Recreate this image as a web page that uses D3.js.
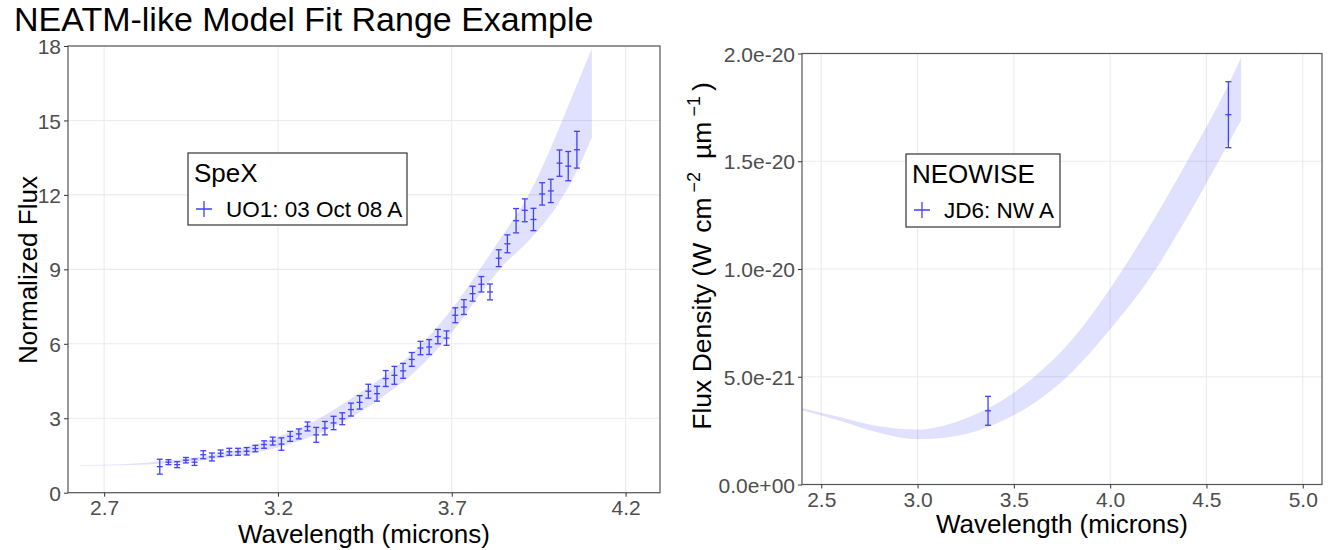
<!DOCTYPE html>
<html lang="en">
<head>
  <meta charset="UTF-8">
  <title>NEATM-like Model Fit Range Example</title>
  <script src="https://d3js.org/d3.v7.min.js"></script>
  <style>
    body { margin: 0; background: #fff; }
    svg { font-family: "Liberation Sans", Arial, sans-serif; }
  </style>
</head>
<body>
<script>
  // SpeX spectrum (normalized flux)
  const spexWave = [2.86, 2.885, 2.91, 2.935, 2.96, 2.985, 3.01, 3.035, 3.06, 3.085,
    3.11, 3.135, 3.16, 3.185, 3.21, 3.235, 3.26, 3.285, 3.31, 3.335,
    3.36, 3.385, 3.41, 3.435, 3.46, 3.485, 3.51, 3.535, 3.56, 3.585,
    3.61, 3.635, 3.66, 3.685, 3.71, 3.735, 3.76, 3.785, 3.81, 3.835,
    3.86, 3.885, 3.91, 3.935, 3.96, 3.985, 4.01, 4.035, 4.06];
  const spexFlux = [1.05, 1.23, 1.13, 1.31, 1.23, 1.53, 1.44, 1.59, 1.65, 1.65,
    1.67, 1.78, 1.94, 2.08, 1.96, 2.27, 2.37, 2.67, 2.33, 2.60,
    2.81, 2.98, 3.35, 3.64, 4.09, 3.99, 4.60, 4.73, 4.91, 5.37,
    5.83, 5.87, 6.29, 6.23, 7.15, 7.48, 8.02, 8.40, 8.09, 9.45,
    10.03, 10.96, 11.38, 11.01, 12.04, 12.16, 13.28, 13.16, 13.82];
  const spexErr = [0.30, 0.10, 0.12, 0.11, 0.13, 0.16, 0.16, 0.13, 0.14, 0.14,
    0.15, 0.13, 0.15, 0.16, 0.25, 0.20, 0.20, 0.18, 0.30, 0.27,
    0.27, 0.24, 0.26, 0.27, 0.28, 0.30, 0.32, 0.36, 0.30, 0.28,
    0.27, 0.30, 0.29, 0.29, 0.30, 0.30, 0.30, 0.31, 0.32, 0.34,
    0.36, 0.49, 0.46, 0.45, 0.45, 0.47, 0.53, 0.59, 0.74];

  // model range band, left panel
  const bandLWave = [2.63, 2.7, 2.8, 2.9, 3.0, 3.1, 3.2, 3.3, 3.4, 3.5, 3.6, 3.7, 3.8, 3.85, 3.9, 3.95, 4.0, 4.05, 4.103];
  const bandLLow  = [1.09, 1.10, 1.13, 1.20, 1.33, 1.53, 1.82, 2.28, 2.95, 3.85, 4.95, 6.45, 8.35, 9.20, 9.85, 10.60, 11.50, 12.70, 14.30];
  const bandLHigh = [1.11, 1.13, 1.19, 1.32, 1.50, 1.80, 2.25, 2.85, 3.70, 4.65, 5.80, 7.40, 9.40, 10.45, 11.50, 12.80, 14.40, 16.10, 17.90];

  // NEOWISE points (W cm^-2 um^-1)
  const nwWave = [3.366, 4.614];
  const nwFlux = [3.42e-21, 1.716e-20];
  const nwErr = [0.67e-21, 1.53e-21];

  // model range band, right panel
  const bandRWave = [2.4, 2.6, 2.8, 3.0, 3.2, 3.4, 3.6, 3.8, 4.0, 4.2, 4.4, 4.6, 4.68];
  const bandRLow  = [3.45e-21, 2.95e-21, 2.40e-21, 2.10e-21, 2.25e-21, 2.80e-21, 3.75e-21, 5.20e-21, 7.20e-21, 9.50e-21, 12.4e-21, 15.6e-21, 16.9e-21];
  const bandRHigh = [3.55e-21, 3.12e-21, 2.70e-21, 2.55e-21, 2.90e-21, 3.70e-21, 4.95e-21, 6.70e-21, 9.10e-21, 11.9e-21, 15.0e-21, 18.3e-21, 19.8e-21];

  // ticks
  const leftXTicks = [2.7, 3.2, 3.7, 4.2];
  const leftYTicks = [0, 3, 6, 9, 12, 15, 18];
  const rightXTicks = [2.5, 3.0, 3.5, 4.0, 4.5, 5.0];
  const rightYTicks = [0, 5e-21, 1e-20, 1.5e-20, 2e-20];
  const rightYLabels = ["0.0e+00", "5.0e-21", "1.0e-20", "1.5e-20", "2.0e-20"];

  const pointColor = "#4040ff";
  const bandColor = "rgba(0,0,255,0.12)";
  const gridColor = "#ebebeb";
  const textGray = "#4d4d4d";

  const svg = d3.select("body").append("svg")
    .attr("width", 1330)
    .attr("height", 550);

  svg.append("text")
    .attr("x", 14)
    .attr("y", 31)
    .attr("font-size", 34)
    .attr("fill", "#000")
    .text("NEATM-like Model Fit Range Example");

  function drawPanel(opt) {
    const x = opt.x, y = opt.y;
    const [x0, x1] = x.range();
    const [y0, y1] = y.range();
    const g = svg.append("g");

    // grid
    g.append("g").selectAll("line").data(opt.xTicks).enter().append("line")
      .attr("x1", d => x(d)).attr("x2", d => x(d))
      .attr("y1", y0).attr("y2", y1)
      .attr("stroke", gridColor).attr("stroke-width", 1.1);
    g.append("g").selectAll("line").data(opt.yTicks).enter().append("line")
      .attr("x1", x0).attr("x2", x1)
      .attr("y1", d => y(d)).attr("y2", d => y(d))
      .attr("stroke", gridColor).attr("stroke-width", 1.1);

    // band
    const band = opt.bandWave.map((w, i) => ({w: w, lo: opt.bandLow[i], hi: opt.bandHigh[i]}));
    g.append("path")
      .datum(band)
      .attr("fill", bandColor)
      .attr("d", d3.area()
        .curve(d3.curveMonotoneX)
        .x(d => x(d.w))
        .y0(d => y(d.lo))
        .y1(d => y(d.hi)));

    // error bars with + markers
    const pts = opt.wave.map((w, i) => ({w: w, f: opt.flux[i], e: opt.err[i]}));
    const cap = opt.cap;
    const pg = g.append("g").attr("stroke", pointColor).attr("stroke-width", 1.3).attr("fill", "none");
    pg.selectAll(".bar").data(pts).enter().append("line")
      .attr("x1", d => x(d.w)).attr("x2", d => x(d.w))
      .attr("y1", d => y(d.f - d.e)).attr("y2", d => y(d.f + d.e));
    pg.selectAll(".capTop").data(pts).enter().append("line")
      .attr("x1", d => x(d.w) - cap).attr("x2", d => x(d.w) + cap)
      .attr("y1", d => y(d.f + d.e)).attr("y2", d => y(d.f + d.e));
    pg.selectAll(".capBot").data(pts).enter().append("line")
      .attr("x1", d => x(d.w) - cap).attr("x2", d => x(d.w) + cap)
      .attr("y1", d => y(d.f - d.e)).attr("y2", d => y(d.f - d.e));
    pg.selectAll(".mark").data(pts).enter().append("line")
      .attr("x1", d => x(d.w) - cap).attr("x2", d => x(d.w) + cap)
      .attr("y1", d => y(d.f)).attr("y2", d => y(d.f));

    // border
    g.append("rect")
      .attr("x", x0).attr("y", y1)
      .attr("width", x1 - x0).attr("height", y0 - y1)
      .attr("fill", "none").attr("stroke", "#555").attr("stroke-width", 1.2);

    // axes
    const ax = g.append("g")
      .attr("transform", `translate(0,${y0})`)
      .call(d3.axisBottom(x).tickValues(opt.xTicks).tickFormat(d3.format(".1f")).tickSize(4).tickPadding(2));
    const ay = g.append("g")
      .attr("transform", `translate(${x0},0)`)
      .call(d3.axisLeft(y).tickValues(opt.yTicks).tickFormat((d, i) => opt.yLabels[i]).tickSize(4).tickPadding(3));
    [ax, ay].forEach(a => {
      a.select(".domain").remove();
      a.selectAll(".tick line").attr("stroke", "#333");
      a.selectAll("text").attr("fill", textGray).attr("font-size", 21)
        .attr("font-family", "Liberation Sans, Arial, sans-serif");
    });
    ax.selectAll("text").attr("dy", "0.78em");
    ay.selectAll("text").attr("dy", "0.36em");

    // x axis title
    g.append("text")
      .attr("x", (x0 + x1) / 2)
      .attr("y", opt.xTitleY)
      .attr("text-anchor", "middle")
      .attr("font-size", 26)
      .text("Wavelength (microns)");

    // legend
    const lg = g.append("g");
    lg.append("rect")
      .attr("x", opt.legend.x).attr("y", opt.legend.y)
      .attr("width", opt.legend.w).attr("height", opt.legend.h)
      .attr("fill", "#fff").attr("stroke", "#333").attr("stroke-width", 1.2);
    lg.append("text")
      .attr("x", opt.legend.x + 6).attr("y", opt.legend.y + 29)
      .attr("font-size", 26)
      .text(opt.legend.title);
    const cx = opt.legend.x + 16, cy = opt.legend.y + 56;
    lg.append("path")
      .attr("d", `M${cx - 8},${cy}H${cx + 8}M${cx},${cy - 8}V${cy + 8}`)
      .attr("stroke", pointColor).attr("stroke-width", 1.3);
    lg.append("text")
      .attr("x", opt.legend.x + 38).attr("y", opt.legend.y + 64)
      .attr("font-size", 22.5)
      .text(opt.legend.label);
    return g;
  }

  const xL = d3.scaleLinear().domain([2.596, 4.299]).range([68, 660]);
  const yL = d3.scaleLinear().domain([0, 18]).range([492.7, 46]);
  drawPanel({
    x: xL, y: yL,
    xTicks: leftXTicks, yTicks: leftYTicks, yLabels: leftYTicks.map(String),
    bandWave: bandLWave, bandLow: bandLLow, bandHigh: bandLHigh,
    wave: spexWave, flux: spexFlux, err: spexErr, cap: 3,
    xTitleY: 543,
    legend: {x: 188, y: 153, w: 219, h: 72, title: "SpeX", label: "UO1: 03 Oct 08 A"}
  });

  const xR = d3.scaleLinear().domain([2.4, 5.1]).range([802, 1322]);
  const yR = d3.scaleLinear().domain([0, 2e-20]).range([484.5, 53.5]);
  drawPanel({
    x: xR, y: yR,
    xTicks: rightXTicks, yTicks: rightYTicks, yLabels: rightYLabels,
    bandWave: bandRWave, bandLow: bandRLow, bandHigh: bandRHigh,
    wave: nwWave, flux: nwFlux, err: nwErr, cap: 3,
    xTitleY: 533,
    legend: {x: 906, y: 154, w: 154, h: 73, title: "NEOWISE", label: "JD6: NW A"}
  });

  // y axis titles
  svg.append("text")
    .attr("transform", "translate(37,270) rotate(-90)")
    .attr("text-anchor", "middle")
    .attr("font-size", 26)
    .text("Normalized Flux");

  const yt = svg.append("text")
    .attr("transform", "translate(711,256) rotate(-90)")
    .attr("text-anchor", "middle")
    .attr("font-size", 26.5);
  yt.append("tspan").text("Flux Density (W");
  yt.append("tspan").attr("dx", 10).text("cm");
  yt.append("tspan").attr("font-size", 18).attr("dx", 5).attr("dy", -11).text("\u22122");
  yt.append("tspan").attr("dx", 13).attr("dy", 11).text("\u00b5m");
  yt.append("tspan").attr("font-size", 18).attr("dx", 5).attr("dy", -11).text("\u22121");
  yt.append("tspan").attr("dx", 5).attr("dy", 11).text(")");
</script>
</body>
</html>
